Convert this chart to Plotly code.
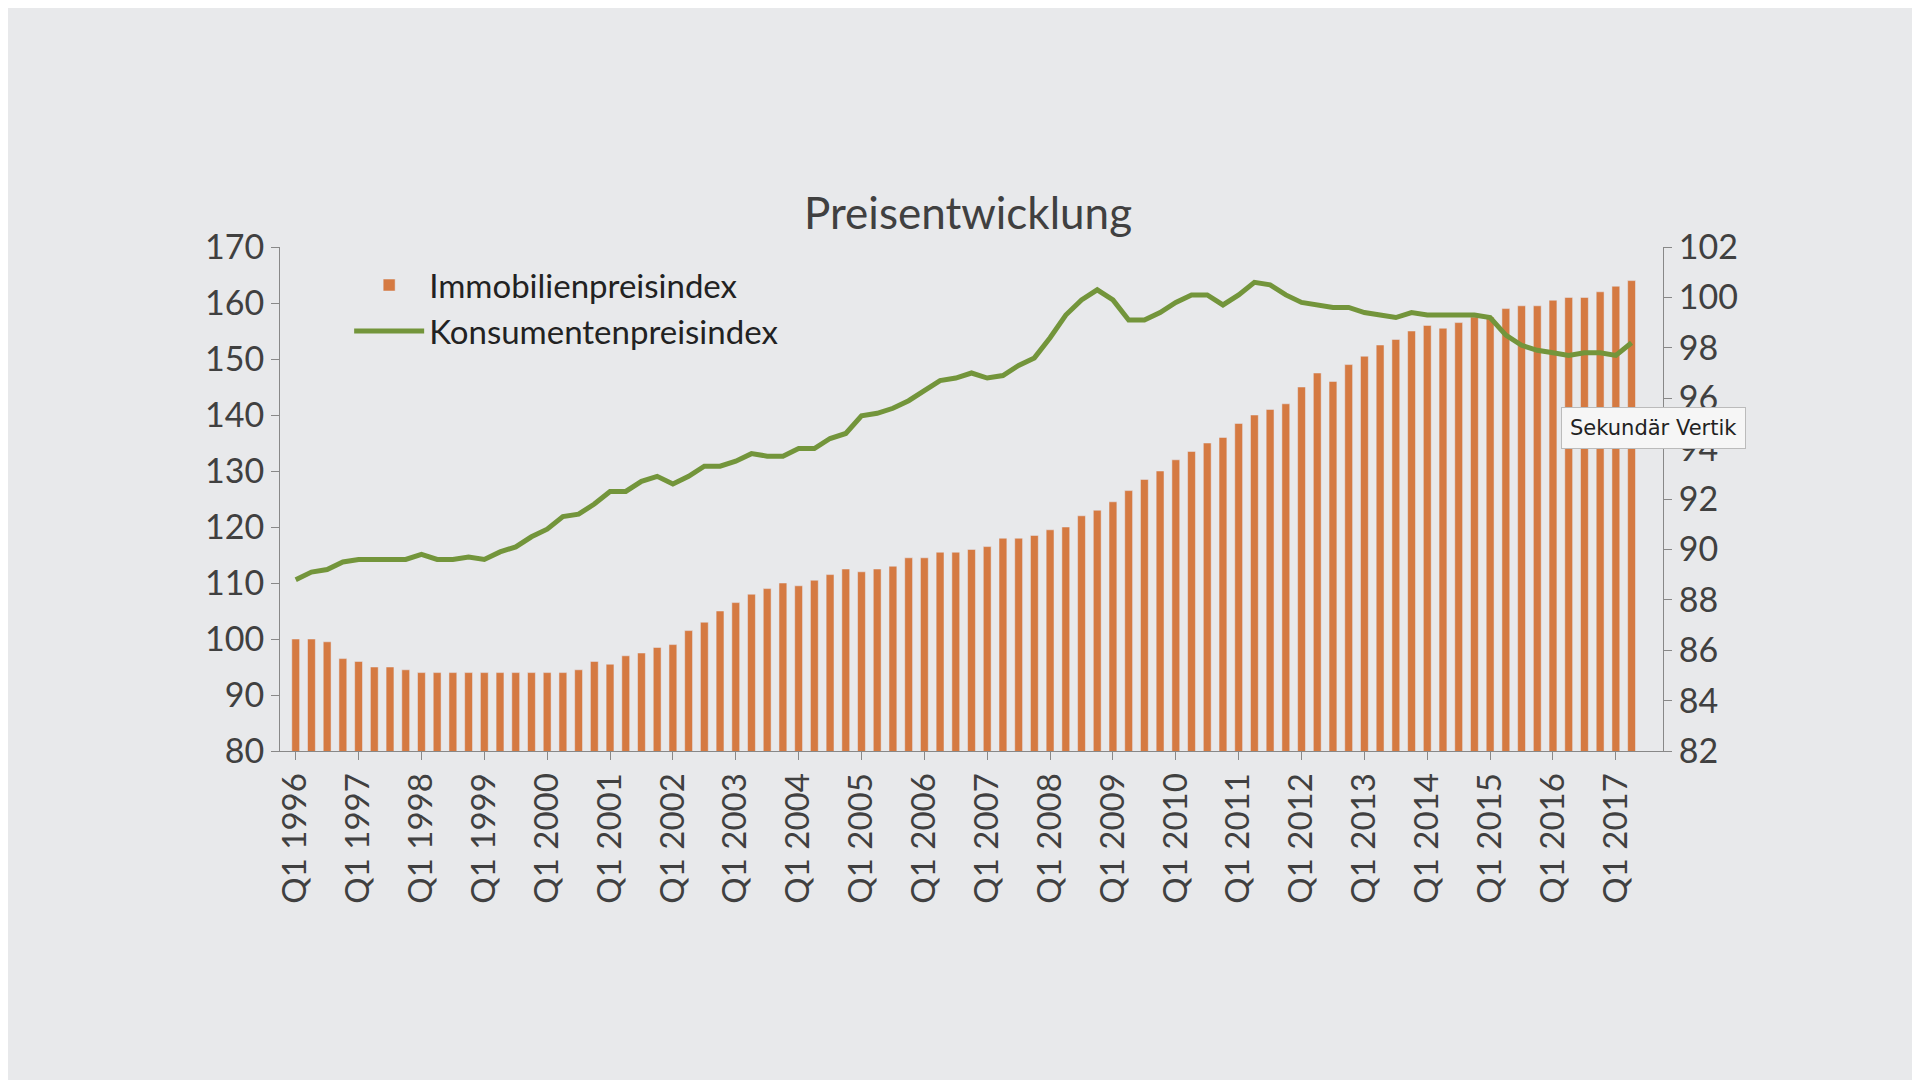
import plotly.graph_objects as go

years = list(range(1996, 2018))
quarters = [f"Q{q} {y}" for y in years for q in range(1, 5)][:86]

immo = [100, 100, 99.5, 96.5,
        96, 95, 95, 94.5,
        94, 94, 94, 94,
        94, 94, 94, 94,
        94, 94, 94.5, 96,
        95.5, 97, 97.5, 98.5,
        99, 101.5, 103, 105,
        106.5, 108, 109, 110,
        109.5, 110.5, 111.5, 112.5,
        112, 112.5, 113, 114.5,
        114.5, 115.5, 115.5, 116,
        116.5, 118, 118, 118.5,
        119.5, 120, 122, 123,
        124.5, 126.5, 128.5, 130,
        132, 133.5, 135, 136,
        138.5, 140, 141, 142,
        145, 147.5, 146, 149,
        150.5, 152.5, 153.5, 155,
        156, 155.5, 156.5, 157.5,
        157.5, 159, 159.5, 159.5,
        160.5, 161, 161, 162,
        163, 164]

kpi = [88.8, 89.1, 89.2, 89.5,
       89.6, 89.6, 89.6, 89.6,
       89.8, 89.6, 89.6, 89.7,
       89.6, 89.9, 90.1, 90.5,
       90.8, 91.3, 91.4, 91.8,
       92.3, 92.3, 92.7, 92.9,
       92.6, 92.9, 93.3, 93.3,
       93.5, 93.8, 93.7, 93.7,
       94.0, 94.0, 94.4, 94.6,
       95.3, 95.4, 95.6, 95.9,
       96.3, 96.7, 96.8, 97.0,
       96.8, 96.9, 97.3, 97.6,
       98.4, 99.3, 99.9, 100.3,
       99.9, 99.1, 99.1, 99.4,
       99.8, 100.1, 100.1, 99.7,
       100.1, 100.6, 100.5, 100.1,
       99.8, 99.7, 99.6, 99.6,
       99.4, 99.3, 99.2, 99.4,
       99.3, 99.3, 99.3, 99.3,
       99.2, 98.5, 98.1, 97.9,
       97.8, 97.7, 97.8, 97.8,
       97.7, 98.2]

left_ticks = list(range(80, 171, 10))
right_ticks = list(range(82, 103, 2))
x_ticks = [f"Q1 {y}" for y in range(1996, 2018)]

orange = "#d57a42"
green = "#73953b"
txt = "#404040"

fig = go.Figure()
fig.add_trace(go.Bar(x=quarters, y=immo, name="Immobilienpreisindex",
                     marker_color=orange, width=0.5))
fig.add_trace(go.Scatter(x=quarters, y=kpi, name="Konsumentenpreisindex",
                         yaxis="y2", mode="lines", line=dict(color=green, width=5)))

fig.update_layout(
    width=1920, height=1080,
    paper_bgcolor="#e8e9eb", plot_bgcolor="#e8e9eb",
    font=dict(family="Lato", color=txt, size=34),
    title=dict(text="Preisentwicklung", x=0.5, xanchor="center", y=0.81, yanchor="middle",
               font=dict(size=44, color=txt)),
    margin=dict(l=272, r=265, t=239, b=337),
    showlegend=True,
    legend=dict(x=0.05, y=0.98, xanchor="left", yanchor="top", bgcolor="rgba(0,0,0,0)",
                font=dict(size=33, color="#222"), tracegroupgap=45, itemwidth=70),
    xaxis=dict(type="category", tickmode="array", tickvals=x_ticks, ticktext=x_ticks,
               tickangle=-90, showgrid=False, showline=True, linecolor="#888",
               ticks="outside", ticklen=8, tickcolor="#888", range=[-1, 87],
               tickfont=dict(size=33)),
    yaxis=dict(range=[80, 170], tickvals=left_ticks, showgrid=False, showline=True,
               linecolor="#888", ticks="outside", ticklen=8, tickcolor="#888",
               tickfont=dict(size=34), zeroline=False),
    yaxis2=dict(range=[82, 102], tickvals=right_ticks, overlaying="y", side="right",
                showgrid=False, showline=True, linecolor="#888", ticks="outside",
                ticklen=8, tickcolor="#888", tickfont=dict(size=34), zeroline=False),
    annotations=[dict(text="Sekundär Vertik", xref="paper", yref="paper",
                      x=1.06, y=0.64, showarrow=False, bgcolor="#f6f6f6",
                      bordercolor="#bbb", borderwidth=1, borderpad=8,
                      font=dict(family="DejaVu Sans", size=21, color="#222"))],
)
fig.write_html("out.html")
